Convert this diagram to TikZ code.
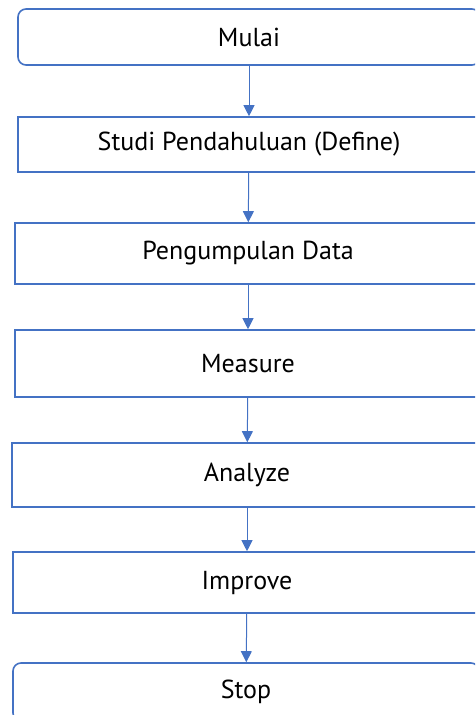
\documentclass[tikz,border=0pt]{standalone}
\usepackage{fontspec}
\setmainfont{PT Sans}
\usetikzlibrary{arrows.meta}
\definecolor{boxblue}{HTML}{4472C4}
\begin{document}
\begin{tikzpicture}[x=1pt, y=-1pt,
    every node/.style={rectangle, draw=boxblue, line width=1.6pt, fill=white, inner sep=0pt, font=\fontsize{26}{30}\selectfont},
    terminal/.style={rounded corners=8pt},
    flow/.style={color=boxblue, line width=1pt, -{Triangle[length=11pt, width=11pt]}}]
      \useasboundingbox (0,0) rectangle (475,715);
      \clip (0,0) rectangle (475,715);
      \node (mulai) at (249,37) [terminal, minimum width=462pt, minimum height=56pt] {Mulai};
      \node (studi) at (249,144.5) [minimum width=462pt, minimum height=55pt] {Studi Pendahuluan (Define)};
      \node (data) at (248,253.5) [minimum width=466pt, minimum height=61pt] {Pengumpulan Data};
      \node (measure) at (248,363.5) [minimum width=466pt, minimum height=67pt] {Measure};
      \node (analyze) at (247,475) [minimum width=470pt, minimum height=64pt] {Analyze};
      \node (improve) at (247,582.5) [minimum width=468pt, minimum height=61pt] {Improve};
      \node (stop) at (246,692) [terminal, minimum width=466pt, minimum height=58pt] {Stop};
      \foreach \source/\dest in {mulai/studi, studi/data, data/measure, measure/analyze, analyze/improve, improve/stop}
        \path[flow] (\source) edge (\dest);
    \end{tikzpicture}
\end{document}
